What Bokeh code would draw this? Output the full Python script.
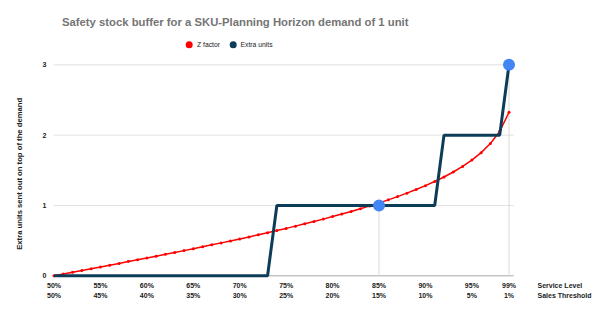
import math
from bokeh.plotting import figure
from bokeh.models import Range1d
from bokeh.core.properties import value
from bokeh.embed import file_html
from bokeh.resources import INLINE

# ---- data ----
service_level = list(range(50, 100))
z_factor = [0.000, 0.025, 0.050, 0.075, 0.100, 0.126, 0.151, 0.176, 0.202, 0.228,
            0.253, 0.279, 0.305, 0.332, 0.358, 0.385, 0.412, 0.440, 0.468, 0.496,
            0.524, 0.553, 0.583, 0.613, 0.643, 0.674, 0.706, 0.739, 0.772, 0.806,
            0.842, 0.878, 0.915, 0.954, 0.994, 1.036, 1.080, 1.126, 1.175, 1.227,
            1.282, 1.341, 1.405, 1.476, 1.555, 1.645, 1.751, 1.881, 2.054, 2.326]
extra_units = [0] * 24 + [1] * 18 + [2] * 7 + [3]
highlight_levels = [85, 99]
highlight_values = [1, 3]
tick_positions = [50, 55, 60, 65, 70, 75, 80, 85, 90, 95, 99]
service_labels = ["50%", "55%", "60%", "65%", "70%", "75%", "80%", "85%", "90%", "95%", "99%"]
threshold_labels = ["50%", "45%", "40%", "35%", "30%", "25%", "20%", "15%", "10%", "5%", "1%"]
row_titles = ["Service Level", "Sales Threshold"]
y_ticks = [0, 1, 2, 3]
series_names = ["Z factor", "Extra units"]
title_text = "Safety stock buffer for a SKU-Planning Horizon demand of 1 unit"
y_title = "Extra units sent out on top of the demand"

FONT = value("Liberation Sans")
TXT = "#222222"
RED = "#ff0000"
DARK = "#0c3c58"

W, H = 602, 323
# pixel scale: 50% at px 53.5, 99% at px 508.5 ; value 0 at py 275.3, 3 at py 64.3
sx = (508.5 - 53.5) / 49.0
sy = (275.3 - 64.3) / 3.0
XS = 50 - 53.5 / sx
XE = XS + W / sx
YE = 275.3 / sy
YS = YE - H / sy

def dx(px):
    return XS + px / sx

def dy(py):
    return YE - py / sy

p = figure(width=W, height=H, output_backend="svg", toolbar_location=None, title=None,
           x_range=Range1d(XS, XE), y_range=Range1d(YS, YE),
           x_axis_location=None, y_axis_location=None,
           min_border=0, min_border_left=0, min_border_right=0,
           min_border_top=0, min_border_bottom=0)
p.outline_line_color = None
p.grid.visible = False
p.background_fill_color = "white"
p.border_fill_color = "white"

x_lo = service_level[0] - 0.05
x_hi = service_level[-1] + 0.5

# gridlines
grid_vals = y_ticks[1:]
p.segment(x0=[x_lo] * len(grid_vals), y0=grid_vals, x1=[x_hi] * len(grid_vals), y1=grid_vals,
          line_color="#e2e2e2", line_width=1)
# baseline
p.segment(x0=[x_lo], y0=[y_ticks[0]], x1=[x_hi], y1=[y_ticks[0]], line_color="#a9a9a9", line_width=1)

# drop lines
p.segment(x0=highlight_levels, y0=[0] * len(highlight_levels), x1=highlight_levels,
          y1=highlight_values, line_color="#d9d9d9", line_width=1)

# series
p.line(service_level, z_factor, line_color=RED, line_width=1.5)
p.scatter(service_level, z_factor, size=3, fill_color=RED, line_color=None)
p.line(service_level, extra_units, line_color=DARK, line_width=3)
p.scatter(highlight_levels, highlight_values, size=12, fill_color="#4285f4", line_color=None)

tick_kw = dict(text_font=FONT, text_font_style="bold", text_font_size="7px", text_color=TXT,
               text_baseline="middle")

# y tick labels
p.text(x=[dx(46)] * len(y_ticks), y=y_ticks, text=[str(v) for v in y_ticks],
       text_align="right", **tick_kw)

# x tick label rows
p.text(x=tick_positions, y=[dy(284.6)] * len(tick_positions), text=service_labels,
       text_align="center", **tick_kw)
p.text(x=tick_positions, y=[dy(295)] * len(tick_positions), text=threshold_labels,
       text_align="center", **tick_kw)
p.text(x=[dx(537)] * 2, y=[dy(284.6), dy(295)], text=row_titles, text_align="left", **tick_kw)

# y axis title
p.text(x=[dx(19)], y=[dy(173.3)], text=[y_title], angle=math.pi / 2,
       text_align="center", text_baseline="middle", text_font=FONT,
       text_font_style="bold", text_font_size="7.7px", text_color=TXT)

# title
p.text(x=[dx(61.5)], y=[dy(21)], text=[title_text], text_align="left", text_baseline="middle",
       text_font=FONT, text_font_style="bold", text_font_size="11.3px", text_color="#757575")

# legend
p.scatter(x=[dx(188.7), dx(232.7)], y=[dy(44.2)] * 2, size=7,
          fill_color=[RED, DARK], line_color=None)
p.text(x=[dx(196.5), dx(240)], y=[dy(44.2)] * 2, text=series_names, text_align="left",
       text_baseline="middle", text_font=FONT, text_font_size="6.8px", text_color=TXT)

open("out.html", "w").write(file_html(p, INLINE))
